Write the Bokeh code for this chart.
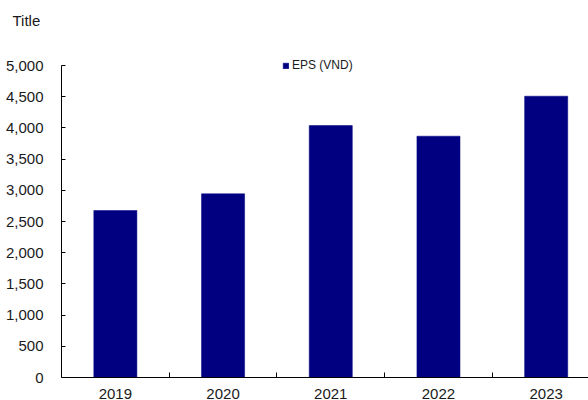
from bokeh.plotting import figure
from bokeh.models import (Range1d, FixedTicker, Legend, LegendItem,
                          ColumnDataSource, NumeralTickFormatter, CustomJSTickFormatter)
from bokeh.embed import file_html
from bokeh.resources import INLINE

years = ["2019", "2020", "2021", "2022", "2023"]
eps = [2676, 2944, 4038, 3867, 4508]
y_ticks = [0, 500, 1000, 1500, 2000, 2500, 3000, 3500, 4000, 4500, 5000]

FONT = "Liberation Sans"
TXT = "#1a1a1a"

centers = [i + 0.5 for i in range(len(years))]
src = ColumnDataSource(dict(x=centers, top=eps, year=years))

# frame extends above 5,000 so the legend is not clipped; the y axis ends at 5,000
TOP = 30
FRAME_H = 377 - TOP
AXIS_H = 312
y_end = y_ticks[-1] * FRAME_H / AXIS_H

p = figure(width=588, height=400, output_backend="svg", toolbar_location=None,
           x_range=Range1d(0, 4.893), y_range=Range1d(0, y_end),
           min_border_left=61, min_border_right=0, min_border_top=TOP,
           min_border_bottom=23, title="Title")
p.frame_width = 527
p.frame_height = FRAME_H
p.outline_line_color = None
p.xgrid.visible = False
p.ygrid.visible = False
p.background_fill_color = "white"
p.border_fill_color = "white"

p.title.align = "left"
p.title.offset = -49
p.title.standoff = 4
p.title.text_font = FONT
p.title.text_font_size = "15px"
p.title.text_font_style = "normal"
p.title.text_color = TXT

r = p.vbar(x="x", top="top", width=0.4, source=src,
           fill_color="#000080", line_color="#000080", line_width=0.5)

# y axis
yax = p.yaxis[0]
yax.bounds = (y_ticks[0], y_ticks[-1])
yax.ticker = FixedTicker(ticks=y_ticks)
yax.formatter = NumeralTickFormatter(format="0,0")
yax.major_tick_in = 4
yax.major_tick_out = 0
yax.minor_tick_line_color = None
yax.axis_line_color = "black"
yax.major_tick_line_color = "black"
yax.major_label_standoff = 18
yax.major_label_text_font = FONT
yax.major_label_text_font_size = "15px"
yax.major_label_text_color = TXT

# x axis
xax = p.xaxis[0]
xax.ticker = FixedTicker(ticks=centers, minor_ticks=[1, 2, 3, 4])
xax.formatter = CustomJSTickFormatter(args=dict(labels=years),
                                      code="return labels[Math.round(tick - 0.5)] || '';")
xax.major_tick_in = 0
xax.major_tick_out = 0
xax.minor_tick_in = 5
xax.minor_tick_out = 0
xax.minor_tick_line_color = "black"
xax.axis_line_color = "black"
xax.major_label_standoff = 11
xax.major_label_text_font = FONT
xax.major_label_text_font_size = "15px"
xax.major_label_text_color = TXT

legend = Legend(items=[LegendItem(label="EPS (VND)", renderers=[r])],
                location=(221, 305), orientation="horizontal",
                glyph_width=7, glyph_height=7, label_standoff=3,
                label_height=13, label_text_font=FONT, label_text_font_size="12px",
                label_text_color=TXT, padding=0, margin=0, spacing=0,
                border_line_alpha=0, background_fill_alpha=0)
p.add_layout(legend, "center")

open("out.html", "w").write(file_html(p, INLINE))
